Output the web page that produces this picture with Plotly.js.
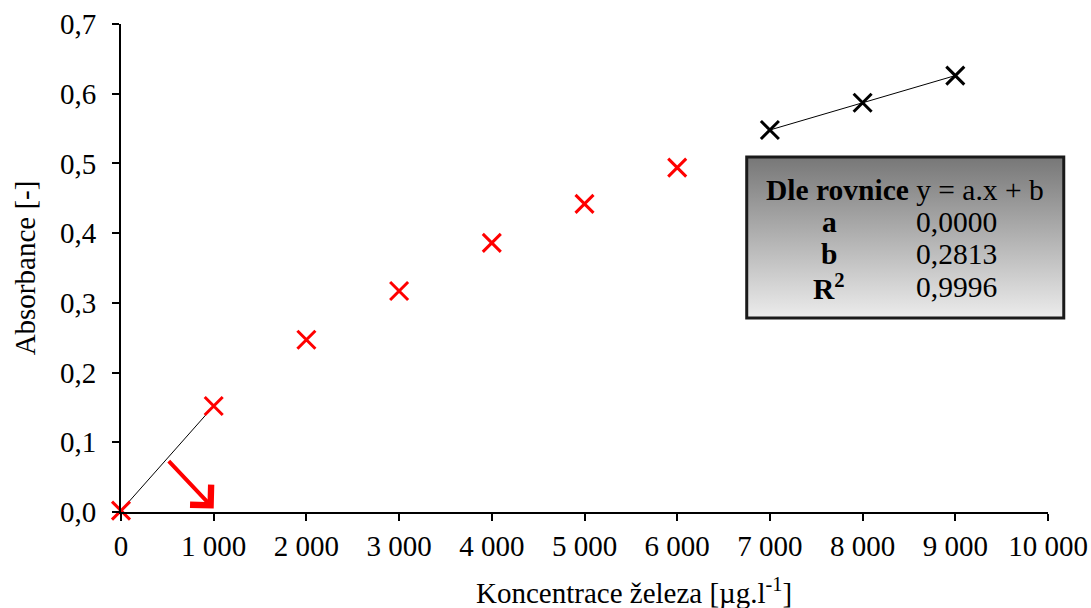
<!DOCTYPE html>
<html>
<head>
<meta charset="utf-8">
<script src="https://cdn.plot.ly/plotly-3.0.1.min.js"></script>
<style>
html,body{margin:0;padding:0;background:#fff;}
#chart{width:1091px;height:608px;}
</style>
</head>
<body>
<div id="chart"></div>
<script>
// ---- data ----
var concRed = [0, 1000, 2000, 3000, 4000, 5000, 6000];
var absRed = [0.002, 0.152, 0.247, 0.317, 0.386, 0.442, 0.494];
var concBlack = [7000, 8000, 9000];
var absBlack = [0.548, 0.587, 0.626];
var fitLowX = [0, 1000];
var fitLowY = [0.002, 0.152];
var xTickVals = [0, 1000, 2000, 3000, 4000, 5000, 6000, 7000, 8000, 9000, 10000];
var xTickText = ['0', '1 000', '2 000', '3 000', '4 000', '5 000', '6 000', '7 000', '8 000', '9 000', '10 000'];
var yTickVals = [0, 0.1, 0.2, 0.3, 0.4, 0.5, 0.6, 0.7];
var yTickText = ['0,0', '0,1', '0,2', '0,3', '0,4', '0,5', '0,6', '0,7'];
var arrowTail = [500, 0.075];
var arrowHead = [1000, 0.005];
var boxRowLabels = ['a', 'b', 'R<sup>2</sup>'];
var boxRowValues = ['0,0000', '0,2813', '0,9996'];

var FONT = 'Liberation Serif, Times New Roman, serif';

var traces = [
  {x: fitLowX, y: fitLowY, mode: 'lines', line: {color: '#000', width: 1}, hoverinfo: 'skip', cliponaxis: false},
  {x: concBlack, y: absBlack, mode: 'lines+markers', line: {color: '#000', width: 1},
   marker: {symbol: 'x-thin-open', size: 18, line: {color: '#000', width: 3}}, cliponaxis: false},
  {x: concRed, y: absRed, mode: 'markers',
   marker: {symbol: 'x-thin-open', size: 18, color: '#ff0000', line: {color: '#ff0000', width: 3}}, cliponaxis: false}
];

var gradSvg = '<svg xmlns="http://www.w3.org/2000/svg" width="100" height="100" preserveAspectRatio="none">' +
  '<defs><linearGradient id="g" x1="0" y1="0" x2="0" y2="1">' +
  '<stop offset="0" stop-color="#777777"/><stop offset="1" stop-color="#ececec"/></linearGradient></defs>' +
  '<rect width="100" height="100" fill="url(#g)"/></svg>';
var gradUri = 'data:image/svg+xml;charset=utf-8,' + encodeURIComponent(gradSvg);

var bx0 = 0.675, bx1 = 1.017, by0 = 0.3975, by1 = 0.7275;
var rowY = [0.594, 0.5287, 0.461];
var boxFont = {family: FONT, size: 29.5, color: '#000'};

var annotations = [
  {x: arrowHead[0], y: arrowHead[1], ax: arrowTail[0], ay: arrowTail[1], xref: 'x', yref: 'y', axref: 'x', ayref: 'y',
   showarrow: true, arrowhead: 4, arrowsize: 1.4, arrowwidth: 4, arrowcolor: '#ff0000', text: ''},
  {xref: 'paper', yref: 'paper', x: 0.8457, y: 0.66, xanchor: 'center', yanchor: 'middle', showarrow: false,
   text: '<b>Dle rovnice</b> y = a.x + b', font: boxFont},
  {xref: 'paper', yref: 'paper', x: 0.553, y: -0.162, xanchor: 'center', yanchor: 'middle', showarrow: false,
   text: 'Koncentrace železa [µg.l<sup>-1</sup>]', font: {family: FONT, size: 29, color: '#000'}}
];
for (var i = 0; i < boxRowLabels.length; i++) {
  annotations.push({xref: 'paper', yref: 'paper', x: 0.764, y: rowY[i], xanchor: 'center', yanchor: 'middle', showarrow: false,
    text: '<b>' + boxRowLabels[i] + '</b>', font: boxFont});
  annotations.push({xref: 'paper', yref: 'paper', x: 0.9018, y: rowY[i], xanchor: 'center', yanchor: 'middle', showarrow: false,
    text: boxRowValues[i], font: boxFont});
}

var layout = {
  width: 1091, height: 608,
  margin: {l: 121, r: 43, t: 24, b: 96},
  paper_bgcolor: '#fff', plot_bgcolor: '#fff',
  showlegend: false,
  font: {family: FONT, size: 29, color: '#000'},
  xaxis: {
    range: [0, 10000], tickvals: xTickVals, ticktext: xTickText,
    showgrid: false, zeroline: false, showline: true, linecolor: '#000', linewidth: 2,
    ticks: 'outside', ticklen: 7, tickwidth: 2, tickcolor: '#000',
    tickfont: {family: FONT, size: 29, color: '#000'}
  },
  yaxis: {
    range: [0, 0.7], tickvals: yTickVals, ticktext: yTickText,
    showgrid: false, zeroline: false, showline: true, linecolor: '#000', linewidth: 2,
    ticks: 'outside', ticklen: 7, tickwidth: 2, tickcolor: '#000', ticklabelstandoff: 10,
    tickfont: {family: FONT, size: 29, color: '#000'},
    title: {text: 'Absorbance [-]', font: {family: FONT, size: 29, color: '#000'}, standoff: 16}
  },
  images: [{source: gradUri, xref: 'paper', yref: 'paper', x: bx0, y: by1, sizex: bx1 - bx0, sizey: by1 - by0,
    sizing: 'stretch', xanchor: 'left', yanchor: 'top', layer: 'above'}],
  shapes: [{type: 'rect', xref: 'paper', yref: 'paper', x0: bx0, x1: bx1, y0: by0, y1: by1,
    line: {color: '#1a1a1a', width: 3}, fillcolor: 'rgba(0,0,0,0)'}],
  annotations: annotations
};

Plotly.newPlot('chart', traces, layout, {displayModeBar: false, staticPlot: true});
</script>
</body>
</html>
